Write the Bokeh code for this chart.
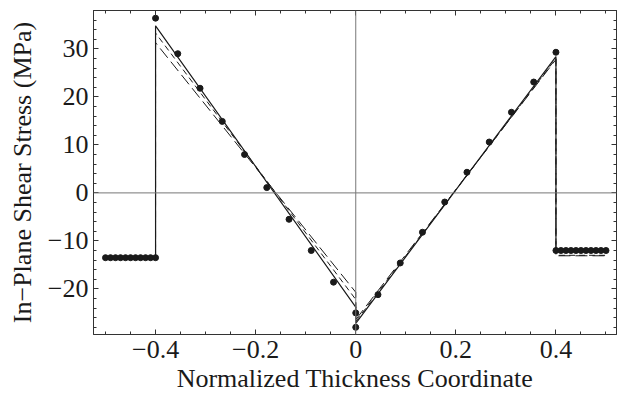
from bokeh.plotting import figure
from bokeh.models import Range1d, LinearAxis, SingleIntervalTicker, CustomJSTickFormatter, Span
from bokeh.embed import file_html
from bokeh.resources import INLINE

# ---- data ----
flat_left_x = [-0.50, -0.49, -0.48, -0.47, -0.46, -0.45, -0.44, -0.43, -0.42, -0.41, -0.40]
flat_left_y = [-13.5, -13.5, -13.5, -13.5, -13.5, -13.5, -13.5, -13.5, -13.5, -13.5, -13.5]
slope_left_x = [-0.4, -0.3556, -0.3111, -0.2667, -0.2222, -0.1778, -0.1333, -0.0889, -0.0444, 0.0]
slope_left_y = [36.4, 29.0, 21.8, 14.9, 8.0, 1.1, -5.5, -12.0, -18.6, -25.0]
slope_right_x = [0.0, 0.0444, 0.0889, 0.1333, 0.1778, 0.2222, 0.2667, 0.3111, 0.3556, 0.4]
slope_right_y = [-28.0, -21.2, -14.6, -8.2, -1.9, 4.3, 10.6, 16.8, 23.1, 29.3]
flat_right_x = [0.40, 0.41, 0.42, 0.43, 0.44, 0.45, 0.46, 0.47, 0.48, 0.49, 0.50]
flat_right_y = [-12.0, -12.0, -12.0, -12.0, -12.0, -12.0, -12.0, -12.0, -12.0, -12.0, -12.0]

line_x = [-0.5, -0.4, -0.4, 0.0, 0.0, 0.4, 0.4, 0.5]
solid_y = [-13.4, -13.4, 34.8, -23.8, -27.2, 28.4, -12.0, -12.0]
long_dash_y = [-13.4, -13.4, 31.3, -20.7, -26.4, 27.8, -13.1, -13.1]
med_dash_y = [-13.4, -13.4, 33.3, -22.2, -26.8, 28.0, -13.0, -13.0]

x_label = "Normalized Thickness Coordinate"
y_label = "In\u2212Plane Shear Stress (MPa)"

FONT = "Liberation Serif"
INK = "#1a1a1a"
FS = "26px"

p = figure(frame_width=523, frame_height=324, output_backend="svg", toolbar_location=None,
           x_range=Range1d(-0.524, 0.521), y_range=Range1d(-29.5, 38.0),
           x_axis_location=None, y_axis_location=None,
           min_border_left=93, min_border_right=3, min_border_top=10, min_border_bottom=52)
p.grid.visible = False
p.outline_line_color = "#333333"
p.background_fill_color = "white"
p.border_fill_color = "white"

xfmt = CustomJSTickFormatter(code="""
if (Math.abs(tick) < 1e-9) { return "0"; }
return tick.toFixed(1).replace("-", "\\u2212");
""")
yfmt = CustomJSTickFormatter(code="""
var v = Math.round(tick);
if (v < 0) { return "\\u2212" + Math.abs(v); }
return "" + v;
""")
blank = CustomJSTickFormatter(code='return "";')

def style(ax, labels):
    ax.axis_line_color = "#333333"
    ax.major_tick_in = 5
    ax.major_tick_out = 0
    ax.minor_tick_in = 3
    ax.minor_tick_out = 0
    ax.major_tick_line_color = "#333333"
    ax.minor_tick_line_color = "#333333"
    if labels:
        ax.major_label_text_font = FONT
        ax.major_label_text_font_size = FS
        ax.major_label_text_color = INK
        ax.axis_label_text_font = FONT
        ax.axis_label_text_font_size = FS
        ax.axis_label_text_font_style = "normal"
        ax.axis_label_text_color = INK
    else:
        ax.formatter = blank
        ax.major_label_standoff = 0

xb = LinearAxis(ticker=SingleIntervalTicker(interval=0.2, num_minor_ticks=4), formatter=xfmt,
                axis_label=x_label)
style(xb, True)
xb.major_label_standoff = 6
xb.axis_label_standoff = 3
p.add_layout(xb, "below")

xt = LinearAxis(ticker=SingleIntervalTicker(interval=0.2, num_minor_ticks=4))
style(xt, False)
p.add_layout(xt, "above")

yl = LinearAxis(ticker=SingleIntervalTicker(interval=10, num_minor_ticks=5), formatter=yfmt,
                axis_label=y_label)
style(yl, True)
yl.major_label_standoff = 5
yl.axis_label_standoff = 8
p.add_layout(yl, "left")

yr = LinearAxis(ticker=SingleIntervalTicker(interval=10, num_minor_ticks=5))
style(yr, False)
p.add_layout(yr, "right")

p.add_layout(Span(location=0, dimension="width", line_color="#777777", line_width=1))
p.add_layout(Span(location=0, dimension="height", line_color="#777777", line_width=1))

p.line(line_x, long_dash_y, line_color=INK, line_width=1, line_dash="12 5")
p.line(line_x, med_dash_y, line_color=INK, line_width=1, line_dash="6 4")
p.line(line_x, solid_y, line_color=INK, line_width=1.2)

for xs, ys in [(flat_left_x, flat_left_y), (slope_left_x, slope_left_y),
               (slope_right_x, slope_right_y), (flat_right_x, flat_right_y)]:
    p.scatter(xs, ys, size=6, fill_color=INK, line_color=INK)

open("out.html", "w").write(file_html(p, INLINE))
